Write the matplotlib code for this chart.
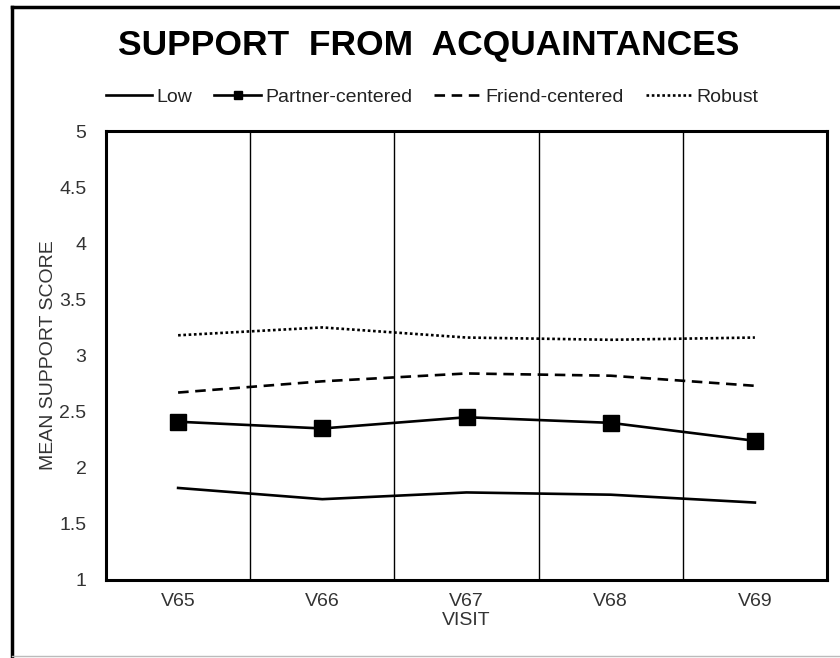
import matplotlib
matplotlib.use("Agg")
import matplotlib.pyplot as plt
from matplotlib.lines import Line2D

plt.rcParams["font.family"] = ["Liberation Sans", "DejaVu Sans"]

visits = ["V65", "V66", "V67", "V68", "V69"]
low = [1.82, 1.72, 1.78, 1.76, 1.69]
partner = [2.41, 2.35, 2.45, 2.40, 2.24]
friend = [2.67, 2.77, 2.84, 2.82, 2.73]
robust = [3.18, 3.25, 3.16, 3.14, 3.16]
yticks = [1, 1.5, 2, 2.5, 3, 3.5, 4, 4.5, 5]

fig = plt.figure(figsize=(8.4, 6.58), dpi=100)
ax = fig.add_axes([106 / 840, 1 - 580 / 658, 721 / 840, 449 / 658])

x = list(range(len(visits)))
ax.plot(x, low, color="black", lw=1.9, label="Low")
ax.plot(x, partner, color="black", lw=1.9, marker="s", ms=11.5, label="Partner-centered")
ax.plot(x, friend, color="black", lw=1.9, ls=(0, (4, 2.5)), label="Friend-centered")
ax.plot(x, robust, color="black", lw=1.9, ls=(0, (1, 1)), label="Robust")

# category separators
for b in range(1, len(visits)):
    ax.axvline(b - 0.5, color="black", lw=1.0)

ax.set_xlim(-0.5, len(visits) - 0.5)
ax.set_ylim(1, 5)
ax.set_xticks(x)
ax.set_xticklabels(visits)
ax.set_yticks(yticks)
ax.set_yticklabels([f"{t:g}" for t in yticks])
ax.tick_params(length=0, labelsize=14, colors="#333333")
ax.tick_params(axis="y", pad=14)
ax.tick_params(axis="x", pad=9)
for s in ax.spines.values():
    s.set_linewidth(2.2)
ax.set_xlabel("VISIT", fontsize=14, color="#333333", labelpad=2)
ax.set_ylabel("MEAN SUPPORT SCORE", fontsize=14, color="#333333", labelpad=2)

fig.text(429 / 840, 1 - 46 / 658, "SUPPORT  FROM  ACQUAINTANCES", ha="center", va="center",
         fontsize=25.5, fontweight="bold")

handles = [
    Line2D([], [], color="black", lw=1.9),
    Line2D([], [], color="black", lw=1.9, marker="s", ms=6),
    Line2D([], [], color="black", lw=1.9, ls=(0, (4, 2.5))),
    Line2D([], [], color="black", lw=1.9, ls=(0, (1, 1))),
]
fig.legend(handles, ["Low", "Partner-centered", "Friend-centered", "Robust"], loc="center",
           bbox_to_anchor=(432 / 840, 1 - 97 / 658), ncol=4, frameon=False, fontsize=14,
           handlelength=2.4, handletextpad=0.2, columnspacing=1.15, labelcolor="#222222")

# outer frame of the picture
fig.add_artist(Line2D([12 / 840, 1.0], [1 - 7 / 658] * 2, color="black", lw=2.5, transform=fig.transFigure))
fig.add_artist(Line2D([12 / 840] * 2, [2 / 658, 1 - 7 / 658], color="black", lw=2.5, transform=fig.transFigure))
fig.add_artist(Line2D([12 / 840, 1.0], [2 / 658] * 2, color="#bbbbbb", lw=1.0, transform=fig.transFigure))

fig.savefig("out.png", dpi=100)
